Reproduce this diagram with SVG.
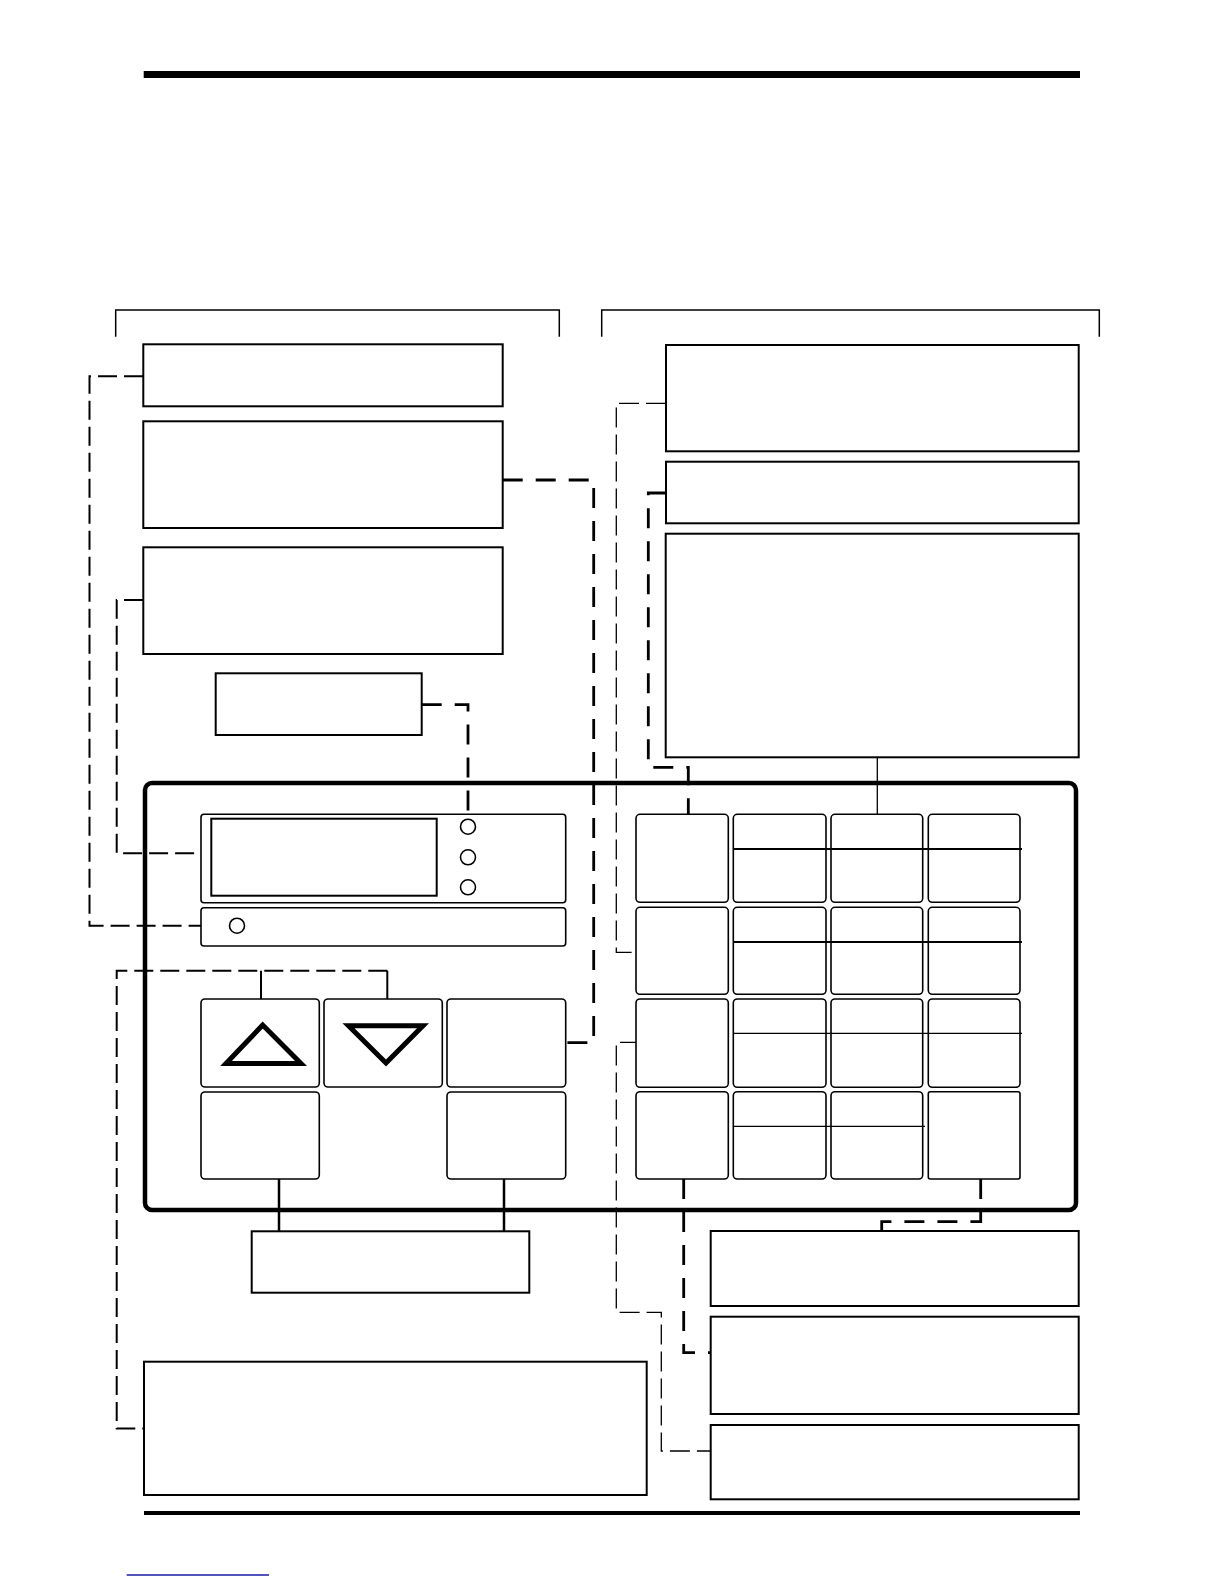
<svg xmlns="http://www.w3.org/2000/svg" width="1224" height="1584" viewBox="0 0 1224 1584">
<style>
.box{fill:#fff;stroke:#000;stroke-width:2}
.key{fill:#fff;stroke:#000;stroke-width:1.6}
.div{stroke:#000;stroke-width:2}
.divt{stroke:#000;stroke-width:1.2}
.c{fill:none;stroke:#000;stroke-linejoin:miter}
.d1{stroke-width:1.3;stroke-dasharray:20 7}
.d2{stroke-width:2;stroke-dasharray:19 7}
.d3{stroke-width:2.8;stroke-dasharray:20 13}
.s{stroke-width:2}
.led{fill:#fff;stroke:#000;stroke-width:1.6}
.tri{fill:none;stroke:#000;stroke-width:5;stroke-linejoin:miter}
</style>
<rect width="1224" height="1584" fill="#fff"/>
<g id="rules">
<rect x="143.7" y="71" width="936.3" height="7" fill="#000"/>
<rect x="144" y="1511" width="936" height="4" fill="#000"/>
<line x1="126.7" y1="1575" x2="269" y2="1575" stroke="#1a1aa6" stroke-width="1.3"/>
<path class="c" stroke-width="1.5" d="M115.7,336.7 V310 H559.3 V336.7"/>
<path class="c" stroke-width="1.5" d="M601.7,336.7 V310 H1099.3 V336.7"/>
</g>
<g id="connectors">
<path class="c d2" d="M143,376.3 H89.5 V925.7 H229"/>
<path class="c d3" d="M502.7,480 H593.7 V1042.7 H565.7"/>
<path class="c d2" d="M143,600 H116.7 V853.3 H216.7"/>
<path class="c d3" d="M421.7,704.7 H468 V819"/>
<path class="c d1" d="M666,403.3 H616.3 V952.3 H640"/>
<path class="c d3" d="M666,493 H648.3 V767.3 H688.3 V814.3"/>
<path class="c" stroke-width="1.3" d="M877.3,757.3 V814.3"/>
<path class="c d1" d="M640,1042.3 H616.3 V1312.3 H661.3 V1451 H710.7"/>
<path class="c d3" d="M683.7,1179 V1352.7 H710.7"/>
<path class="c d3" d="M980.7,1179 V1221.7 H881.7 V1231"/>
<path class="c s" d="M261,999 V970.7"/>
<path class="c s" d="M387.3,1001.7 V970.7"/>
<path class="c d2" d="M387.3,970.7 H116.7 V1428.5 H144"/>
<path class="c" stroke-width="2.5" d="M279,1179 V1231.3"/>
<path class="c" stroke-width="2.5" d="M504,1179 V1231.3"/>
</g>
<g id="panel">
<rect x="145" y="783" width="931" height="427" rx="7" fill="none" stroke="#000" stroke-width="4.5"/>
</g>
<g id="display">
<rect class="key" x="201" y="814.3" width="364.7" height="88.4" rx="3"/>
<rect class="box" x="211.3" y="818.7" width="225.4" height="77" stroke-width="1.6"/>
<circle class="led" cx="468" cy="826.7" r="7.5"/>
<circle class="led" cx="468" cy="857.3" r="7.5"/>
<circle class="led" cx="468" cy="887.3" r="7.5"/>
<rect class="key" x="201" y="907.7" width="364.7" height="38.3" rx="3"/>
<circle class="led" cx="237" cy="925.7" r="7.5"/>
</g>
<g id="left-keys">
<rect class="key" x="201" y="999" width="118.3" height="88" rx="4"/>
<polygon class="tri" points="262.7,1025 226,1063.5 301,1063.5"/>
<rect class="key" x="324" y="999" width="118.3" height="88" rx="4"/>
<polygon class="tri" points="348.5,1025.8 423,1025.8 386,1063"/>
<rect class="key" x="447" y="999" width="118.7" height="88" rx="4"/>
<rect class="key" x="201" y="1092" width="118.3" height="87" rx="4"/>
<rect class="key" x="447" y="1092" width="118.7" height="87" rx="4"/>
</g>
<g id="keypad">
<rect class="key" x="636" y="814.3" width="92.3" height="88" rx="4"/>
<rect class="key" x="733.3" y="814.3" width="92.7" height="88" rx="4"/>
<rect class="key" x="831" y="814.3" width="91.7" height="88" rx="4"/>
<rect class="key" x="928.3" y="814.3" width="91.7" height="88" rx="4"/>
<rect class="key" x="636" y="907.3" width="92.3" height="87" rx="4"/>
<rect class="key" x="733.3" y="907.3" width="92.7" height="87" rx="4"/>
<rect class="key" x="831" y="907.3" width="91.7" height="87" rx="4"/>
<rect class="key" x="928.3" y="907.3" width="91.7" height="87" rx="4"/>
<rect class="key" x="636" y="999" width="92.3" height="88.3" rx="4"/>
<rect class="key" x="733.3" y="999" width="92.7" height="88.3" rx="4"/>
<rect class="key" x="831" y="999" width="91.7" height="88.3" rx="4"/>
<rect class="key" x="928.3" y="999" width="91.7" height="88.3" rx="4"/>
<rect class="key" x="636" y="1091.7" width="92.3" height="87.3" rx="4"/>
<rect class="key" x="733.3" y="1091.7" width="92.7" height="87.3" rx="4"/>
<rect class="key" x="831" y="1091.7" width="91.7" height="87.3" rx="4"/>
<rect class="key" x="928.3" y="1091.7" width="91.7" height="87.3" rx="2" stroke-width="2"/>
<line class="div" x1="733.3" y1="849" x2="1022" y2="849"/>
<line class="div" x1="733.3" y1="942" x2="1022" y2="942"/>
<line class="divt" x1="733.3" y1="1033.3" x2="1022" y2="1033.3"/>
<line class="divt" x1="733.3" y1="1126.3" x2="925" y2="1126.3"/>
</g>
<g id="box-l1"><rect class="box" x="143.3" y="344.3" width="359.4" height="62"/></g>
<g id="box-l2"><rect class="box" x="143.3" y="421.3" width="359.4" height="106.7"/></g>
<g id="box-l3"><rect class="box" x="143.3" y="547.3" width="359.4" height="106.7"/></g>
<g id="box-l4"><rect class="box" x="215.7" y="673.3" width="206" height="61.7"/></g>
<g id="box-r1"><rect class="box" x="666" y="345" width="412.7" height="106.3"/></g>
<g id="box-r2"><rect class="box" x="666" y="461.7" width="412.7" height="61.6"/></g>
<g id="box-r3"><rect class="box" x="665.7" y="533.7" width="413" height="223.6"/></g>
<g id="box-b1"><rect class="box" x="251.7" y="1231.3" width="277.6" height="61.4"/></g>
<g id="box-b2"><rect class="box" x="144" y="1361.7" width="502.7" height="133.3"/></g>
<g id="box-r4"><rect class="box" x="710.7" y="1231" width="368" height="75"/></g>
<g id="box-r5"><rect class="box" x="710.7" y="1316.7" width="368" height="97.3"/></g>
<g id="box-r6"><rect class="box" x="710.7" y="1425" width="368" height="74.3"/></g>
</svg>
